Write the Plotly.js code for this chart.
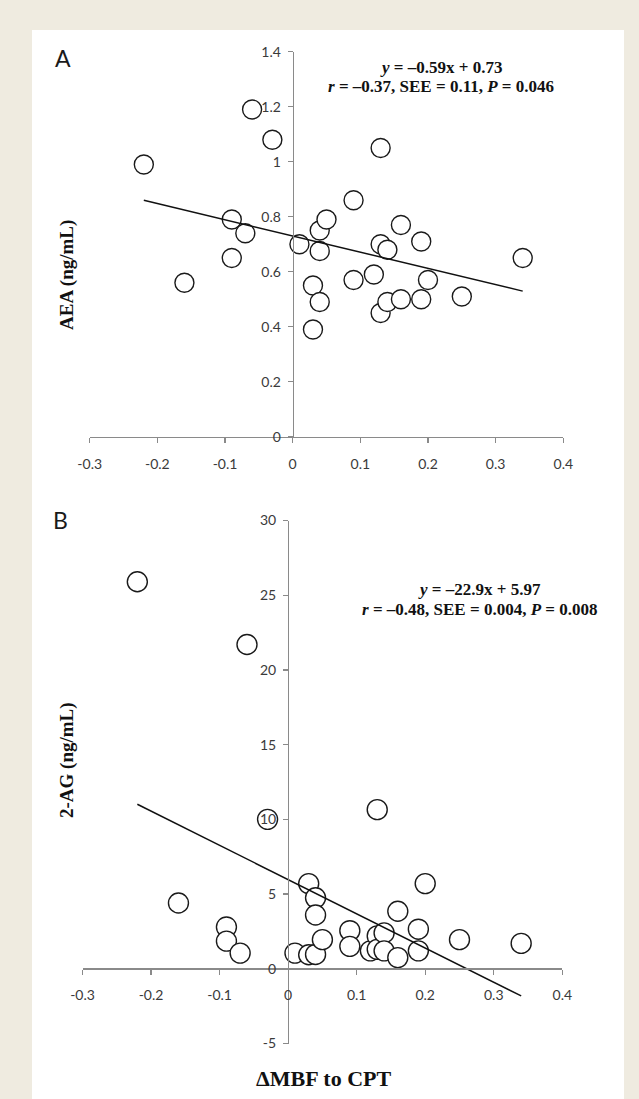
<!DOCTYPE html>
<html>
<head>
<meta charset="utf-8">
<script src="https://cdn.plot.ly/plotly-3.0.1.min.js"></script>
<style>
html,body{margin:0;padding:0;background:#efebe0;}
#chart{width:639px;height:1099px;}
</style>
</head>
<body>
<div id="chart"></div>
<script>
// ---- Data ----
const xA = [-0.22,-0.16,-0.09,-0.09,-0.07,-0.06,-0.03,0.01,0.03,0.03,0.04,0.04,0.04,0.05,0.09,0.09,0.12,0.13,0.13,0.13,0.14,0.14,0.16,0.16,0.19,0.19,0.20,0.25,0.34];
const yA = [0.99,0.56,0.79,0.65,0.74,1.19,1.08,0.70,0.55,0.39,0.75,0.675,0.49,0.79,0.86,0.57,0.59,1.05,0.70,0.45,0.68,0.49,0.77,0.50,0.71,0.50,0.57,0.51,0.65];
const xB = [-0.22,-0.16,-0.09,-0.09,-0.07,-0.06,-0.03,0.01,0.03,0.03,0.04,0.04,0.04,0.05,0.09,0.09,0.12,0.13,0.13,0.13,0.14,0.14,0.16,0.16,0.19,0.19,0.20,0.25,0.34];
const yB = [25.9,4.4,2.8,1.85,1.05,21.7,10.0,1.05,5.7,0.94,4.75,3.6,0.96,1.95,2.55,1.5,1.2,10.65,2.2,1.3,2.4,1.2,3.85,0.75,2.65,1.2,5.7,1.95,1.7];
const fitA = {slope: -0.59, intercept: 0.73};
const fitB = {slope: -22.9, intercept: 5.97};
const xTickVals = [-0.3,-0.2,-0.1,0,0.1,0.2,0.3,0.4];
const xTickLabels = ['-0.3','-0.2','-0.1','0','0.1','0.2','0.3','0.4'];
const yTickValsA = [0,0.2,0.4,0.6,0.8,1,1.2,1.4];
const yTickLabelsA = ['0','0.2','0.4','0.6','0.8','1','1.2','1.4'];
const yTickValsB = [-5,0,5,10,15,20,25,30];
const yTickLabelsB = ['-5','0','5','10','15','20','25','30'];
const eqA = ['<b><i>y</i> = –0.59x + 0.73</b>', '<b><i>r</i> = –0.37, SEE = 0.11, <i>P</i> = 0.046</b>'];
const eqB = ['<b><i>y</i> = –22.9x + 5.97</b>', '<b><i>r</i> = –0.48, SEE = 0.004, <i>P</i> = 0.008</b>'];

// ---- Layout helpers (pixel -> paper) ----
const W = 639, H = 1099;
const px = v => v / W;
const py = v => 1 - v / H;

function fitLine(xs, fit) {
  const lo = Math.min(...xs), hi = Math.max(...xs);
  return {x: [lo, hi], y: [fit.slope * lo + fit.intercept, fit.slope * hi + fit.intercept]};
}
const lineA = fitLine(xA, fitA);
const lineB = fitLine(xB, fitB);

const markerA = {symbol: 'circle', size: 19, color: '#ffffff', line: {color: '#1a1a1a', width: 1.4}};
const markerB = {symbol: 'circle', size: 20, color: '#ffffff', line: {color: '#1a1a1a', width: 1.4}};

const traces = [
  {x: xA, y: yA, type: 'scatter', mode: 'markers', marker: markerA, xaxis: 'x', yaxis: 'y', hoverinfo: 'x+y'},
  {x: lineA.x, y: lineA.y, type: 'scatter', mode: 'lines', line: {color: '#111', width: 1.5}, xaxis: 'x', yaxis: 'y', hoverinfo: 'skip'},
  {x: xB, y: yB, type: 'scatter', mode: 'markers', marker: markerB, xaxis: 'x2', yaxis: 'y2', hoverinfo: 'x+y'},
  {x: lineB.x, y: lineB.y, type: 'scatter', mode: 'lines', line: {color: '#111', width: 1.5}, xaxis: 'x2', yaxis: 'y2', hoverinfo: 'skip'}
];

const tickFont = {family: 'Lato, "Open Sans", sans-serif', size: 14, color: '#3a3a3a'};
const axisCommon = {
  showgrid: false, zeroline: false, showline: true, linecolor: '#8a8a8a', linewidth: 1.3,
  ticks: 'outside', ticklen: 5, tickwidth: 1.2, tickcolor: '#8a8a8a', tickfont: tickFont,
  fixedrange: true
};

const dAx = [px(89.7), px(563.3)];
const dAy = [py(436.7), py(51.7)];
const dBx = [px(82.5), px(562.3)];
const dBy = [py(1043.5), py(520.5)];

const serif = '"Liberation Serif", "Times New Roman", serif';

const layout = {
  width: W, height: H,
  margin: {l: 0, r: 0, t: 0, b: 0},
  paper_bgcolor: '#efebe0',
  plot_bgcolor: 'rgba(0,0,0,0)',
  showlegend: false,
  xaxis: Object.assign({}, axisCommon, {domain: dAx, range: [-0.3, 0.4], anchor: 'y',
    tickvals: xTickVals, ticktext: xTickLabels, ticklabelstandoff: 9}),
  yaxis: Object.assign({}, axisCommon, {domain: dAy, range: [0, 1.4], anchor: 'free',
    position: px(292.7), tickvals: yTickValsA, ticktext: yTickLabelsA, ticklabelstandoff: 4}),
  xaxis2: Object.assign({}, axisCommon, {domain: dBx, range: [-0.3, 0.4], anchor: 'free',
    position: py(968.3), tickvals: xTickVals, ticktext: xTickLabels, ticklabelstandoff: 9}),
  yaxis2: Object.assign({}, axisCommon, {domain: dBy, range: [-5, 30], anchor: 'free',
    position: px(288), tickvals: yTickValsB, ticktext: yTickLabelsB, ticklabelstandoff: 4}),
  shapes: [
    {type: 'rect', xref: 'paper', yref: 'paper', x0: px(32), x1: px(624), y0: -0.01, y1: py(30),
     fillcolor: '#ffffff', line: {width: 0}, layer: 'below'}
  ],
  annotations: [
    {xref: 'paper', yref: 'paper', x: px(63), y: py(58), text: 'A', showarrow: false,
     font: {family: 'Lato, sans-serif', size: 23, color: '#1a1a1a'}, xanchor: 'center', yanchor: 'middle'},
    {xref: 'paper', yref: 'paper', x: px(60), y: py(520), text: 'B', showarrow: false,
     font: {family: 'Lato, sans-serif', size: 23, color: '#1a1a1a'}, xanchor: 'center', yanchor: 'middle'},
    {xref: 'paper', yref: 'paper', x: px(441), y: py(67), text: eqA[0], showarrow: false,
     font: {family: serif, size: 17, color: '#111'}, xanchor: 'center', yanchor: 'middle'},
    {xref: 'paper', yref: 'paper', x: px(441), y: py(87), text: eqA[1], showarrow: false,
     font: {family: serif, size: 17, color: '#111'}, xanchor: 'center', yanchor: 'middle'},
    {xref: 'paper', yref: 'paper', x: px(479), y: py(589), text: eqB[0], showarrow: false,
     font: {family: serif, size: 17, color: '#111'}, xanchor: 'center', yanchor: 'middle'},
    {xref: 'paper', yref: 'paper', x: px(479), y: py(609), text: eqB[1], showarrow: false,
     font: {family: serif, size: 17, color: '#111'}, xanchor: 'center', yanchor: 'middle'},
    {xref: 'paper', yref: 'paper', x: px(67), y: py(275), text: '<b>AEA (ng/mL)</b>', textangle: -90, showarrow: false,
     font: {family: serif, size: 19, color: '#111'}, xanchor: 'center', yanchor: 'middle'},
    {xref: 'paper', yref: 'paper', x: px(67), y: py(760), text: '<b>2-AG (ng/mL)</b>', textangle: -90, showarrow: false,
     font: {family: serif, size: 19, color: '#111'}, xanchor: 'center', yanchor: 'middle'},
    {xref: 'paper', yref: 'paper', x: px(324), y: py(1078), text: '<b>ΔMBF to CPT</b>', showarrow: false,
     font: {family: serif, size: 22, color: '#111'}, xanchor: 'center', yanchor: 'middle'}
  ]
};

Plotly.newPlot('chart', traces, layout, {displayModeBar: false, staticPlot: true});
</script>
</body>
</html>
